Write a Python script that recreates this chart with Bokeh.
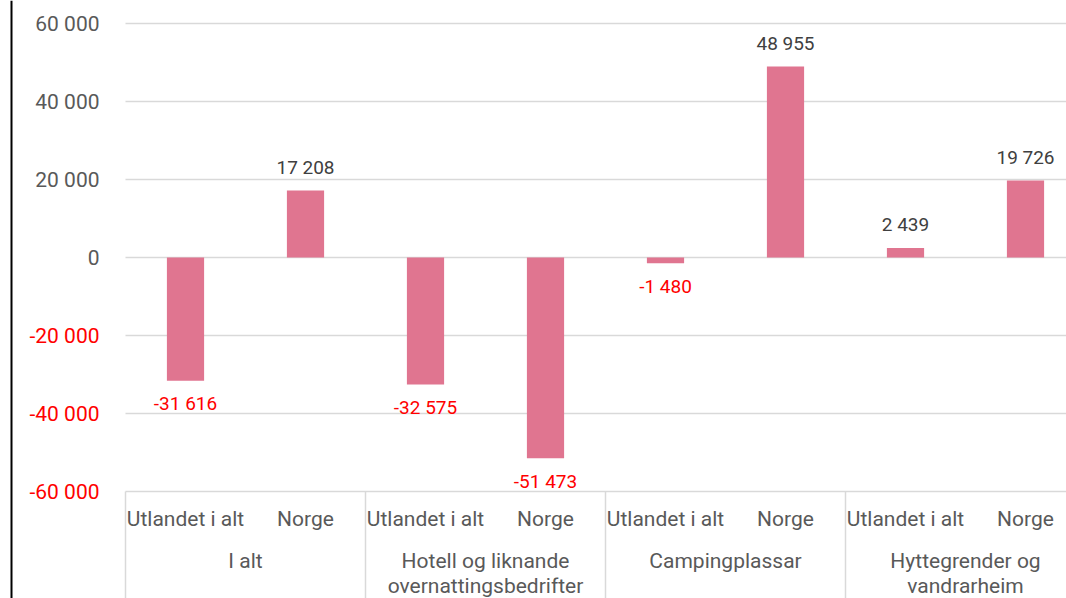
from bokeh.plotting import figure
from bokeh.models import FixedTicker, LinearAxis, Range1d, ColumnDataSource, Span
from bokeh.core.properties import value
from bokeh.embed import file_html
from bokeh.resources import INLINE

# ---- data ----
groups = ["I alt", "Hotell og liknande\novernattingsbedrifter", "Campingplassar", "Hyttegrender og\nvandrarheim"]
subcats = ["Utlandet i alt", "Norge"]
values = [-31616, 17208, -32575, -51473, -1480, 48955, 2439, 19726]
pos_ticks = [0, 20000, 40000, 60000]
neg_ticks = [-60000, -40000, -20000]

# ---- styling / layout ----
FONT = "Roboto"
BAR_COLOR = "#E07590"
GRID_COLOR = "#D9D9D9"
AXIS_TEXT = "#595959"
POS_LABEL = "#404040"
NEG_COLOR = "#FF0000"

W, H = 1066, 598
PLOT_LEFT = 125          # screen x where the category area starts
SLOT = 120.0             # px per category slot
PPU = (491 - 23) / 120000.0  # pixels per value unit
y_top = 60000 + 23 / PPU
y_bot = -60000 - (H - 491) / PPU
x_start = -PLOT_LEFT / SLOT
x_end = (W - PLOT_LEFT) / SLOT

def fmt(v):
    return f"{v:,}".replace(",", " ")

p = figure(width=W, height=H, output_backend="svg", toolbar_location=None,
           x_axis_location=None, x_range=Range1d(x_start, x_end), y_range=Range1d(y_bot, y_top),
           min_border_left=0, min_border_right=0, min_border_top=0, min_border_bottom=0)
p.outline_line_color = None
p.xgrid.visible = False
p.ygrid.visible = False

# black frame line at the left
p.add_layout(Span(location=x_start + 11 / SLOT, dimension="height", line_color="#000000", line_width=2))

# horizontal gridlines, only over the category area
all_ticks = neg_ticks + pos_ticks
p.segment(x0=[0] * len(all_ticks), x1=[x_end] * len(all_ticks), y0=all_ticks, y1=all_ticks,
          line_color=GRID_COLOR, line_width=1.5)

# y axes: grey positives, red negatives, both anchored at the category area's left edge
ax = p.yaxis[0]
ax.ticker = FixedTicker(ticks=pos_ticks)
ax.fixed_location = 0
ax.major_label_overrides = {t: fmt(t) for t in pos_ticks}
neg_ax = LinearAxis(ticker=FixedTicker(ticks=neg_ticks), fixed_location=0,
                    major_label_overrides={t: fmt(t) for t in neg_ticks})
p.add_layout(neg_ax, "left")
for a, col in ((ax, AXIS_TEXT), (neg_ax, NEG_COLOR)):
    a.axis_line_color = None
    a.major_tick_line_color = None
    a.minor_tick_line_color = None
    a.major_tick_out = 0
    a.major_tick_in = 0
    a.major_label_standoff = 26
    a.major_label_text_font = FONT
    a.major_label_text_font_size = "21px"
    a.major_label_text_color = col

# bars
n = len(values)
xs = [i + 0.5 for i in range(n)]
src = ColumnDataSource(dict(
    x=xs, top=values,
    label=[fmt(v) for v in values],
    color=[POS_LABEL if v >= 0 else NEG_COLOR for v in values],
    off=[-23 if v >= 0 else 23 for v in values],
))
p.vbar(x="x", top="top", bottom=0, width=0.31, source=src,
       fill_color=BAR_COLOR, line_color=None)
p.text(x="x", y="top", text="label", y_offset="off", source=src,
       text_font=value(FONT), text_font_size="19px", text_color="color",
       text_align="center", text_baseline="middle")

# category axis (drawn with the plot's scales)
sub_y = -60000 - (518 - 491) / PPU
g1_y = -60000 - (560 - 491) / PPU
g2_y = -60000 - (585 - 491) / PPU
sub_labels = [subcats[i % len(subcats)] for i in range(n)]
p.text(x=xs, y=[sub_y] * n, text=sub_labels, text_font=value(FONT), text_font_size="21px",
       text_color=AXIS_TEXT, text_align="center", text_baseline="middle")
ng = len(groups)
gx = [len(subcats) * g + len(subcats) / 2 for g in range(ng)]
lines = [g.split("\n") for g in groups]
p.text(x=gx, y=[g1_y] * ng, text=[l[0] for l in lines], text_font=value(FONT), text_font_size="21px",
       text_color=AXIS_TEXT, text_align="center", text_baseline="middle")
gx2 = [gx[i] for i in range(ng) if len(lines[i]) > 1]
p.text(x=gx2, y=[g2_y] * len(gx2), text=[l[1] for l in lines if len(l) > 1], text_font=value(FONT),
       text_font_size="21px", text_color=AXIS_TEXT, text_align="center", text_baseline="middle")
sep_x = [len(subcats) * g for g in range(ng + 1)]
p.segment(x0=sep_x, x1=sep_x, y0=[-60000] * len(sep_x), y1=[y_bot] * len(sep_x),
          line_color=GRID_COLOR, line_width=1.5)

open("out.html", "w").write(file_html(p, INLINE))
